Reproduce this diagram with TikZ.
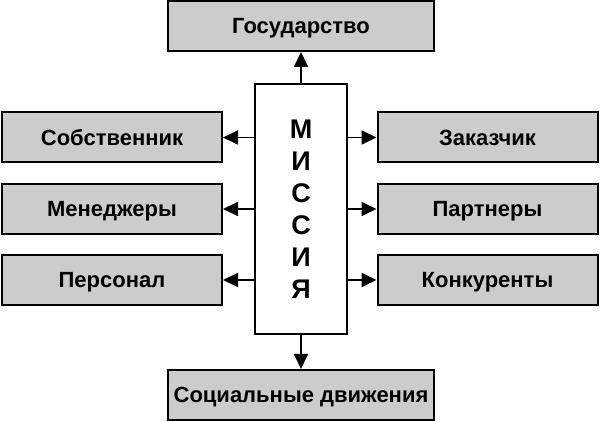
\documentclass[tikz,border=0pt]{standalone}
\usepackage{fontspec}
\setmainfont{Liberation Sans}
\usetikzlibrary{arrows.meta}
\definecolor{boxgray}{RGB}{204,204,204}
\begin{document}
\begin{tikzpicture}[x=1pt,y=1pt,
    box/.style={draw=black,line width=2pt,fill=boxgray,minimum height=50pt,
      inner sep=0pt,text height=18pt,text depth=2pt,
      font=\fontsize{22}{26}\selectfont\bfseries},
    misbox/.style={draw=black,line width=2pt,fill=white,minimum width=92pt,
      minimum height=250pt,inner sep=0pt,align=center,
      font=\fontsize{27}{32}\selectfont\bfseries},
    arr/.style={line width=1.8pt,-{Triangle[length=15pt,width=14pt]}}]
        \useasboundingbox (0,0) rectangle (600,422);
        % boxes
        \node[misbox] (mis) at (301,213) {М\\И\\С\\С\\И\\Я};
        \node[box,minimum width=266pt] (gos) at (301,396) {Государство};
        \node[box,minimum width=266pt] (soc) at (301,27) {Социальные движения};
        \node[box,minimum width=220pt] (sob) at (112,284.5) {Собственник};
        \node[box,minimum width=220pt] (men) at (112,213) {Менеджеры};
        \node[box,minimum width=220pt] (per) at (112,142) {Персонал};
        \node[box,minimum width=220pt] (zak) at (487.5,284.5) {Заказчик};
        \node[box,minimum width=220pt] (par) at (487.5,213) {Партнеры};
        \node[box,minimum width=220pt] (kon) at (487.5,142) {Конкуренты};
        % arrows
        \draw[arr] (mis.north) -- (gos.south);
        \draw[arr] (mis.south) -- (soc.north);
        \foreach \n in {sob,men,per} \draw[arr] (\n -| mis.west) -- (\n.east);
        \foreach \n in {zak,par,kon} \draw[arr] (\n -| mis.east) -- (\n.west);
      \end{tikzpicture}
\end{document}
